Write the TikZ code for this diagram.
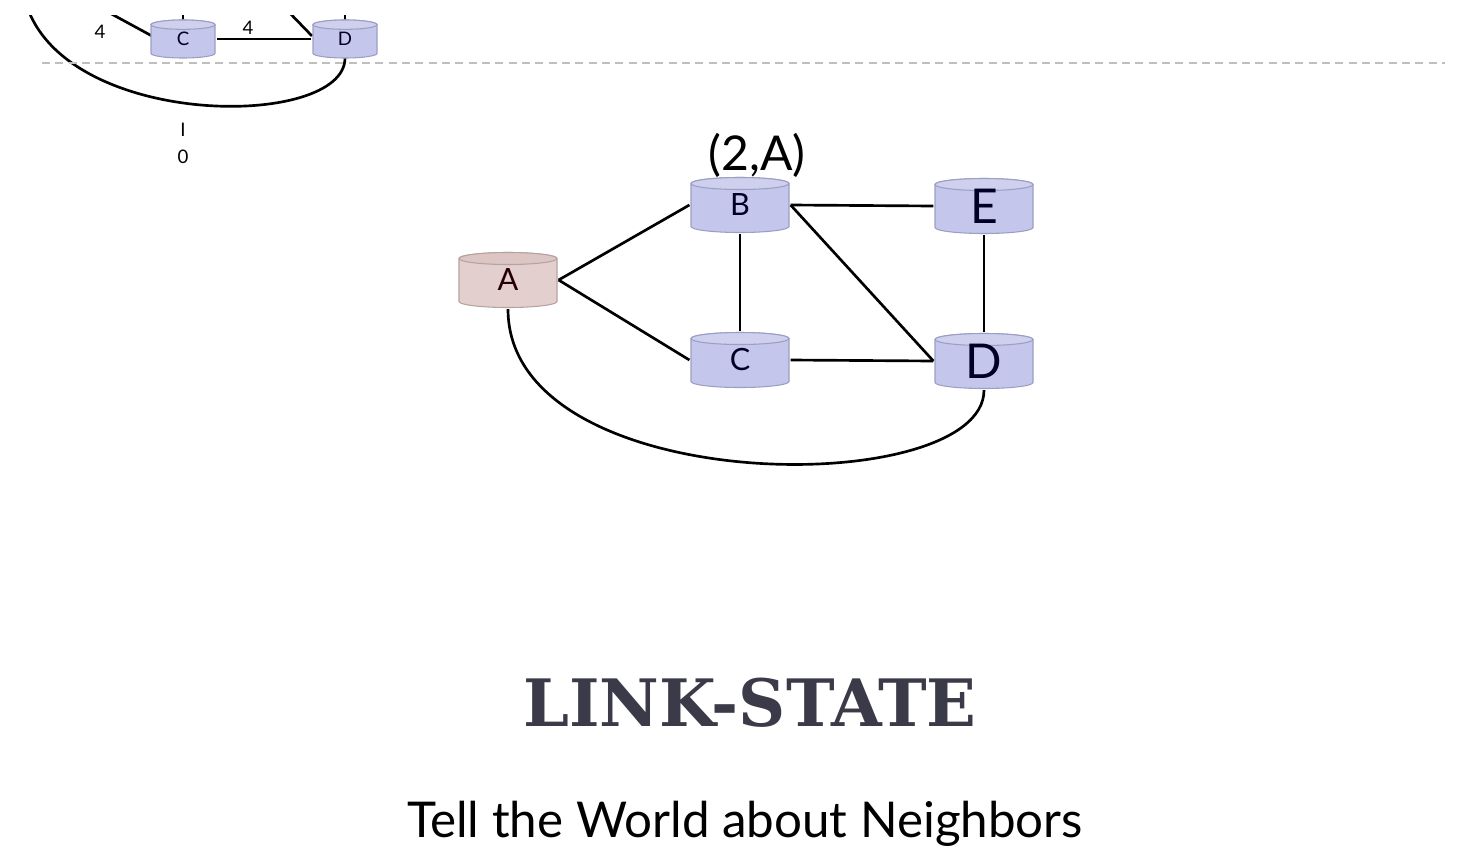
\documentclass[tikz,border=0pt]{standalone}
\usepackage{fontspec}
\setmainfont{Lato}
\newfontfamily\slabfont{DejaVu Serif}
\definecolor{routerfill}{HTML}{C4C7EB}
\definecolor{routertop}{HTML}{CED0EE}
\definecolor{routerline}{HTML}{9C9EC4}
\definecolor{hostfill}{HTML}{E3CFCD}
\definecolor{hosttop}{HTML}{DCC6C4}
\definecolor{hostline}{HTML}{B5A3A2}
\definecolor{titlegray}{HTML}{3A3A48}
\tikzset{
       cyl/.style n args = {5}{ path picture={
                      \path [fill=#1, draw=#3, line width=0.8pt]
                        ([xshift=1pt, yshift=-1pt-#5]path picture bounding box.north west)
                        -- ([xshift=1pt, yshift=1pt+#5]path picture bounding box.south west)
                        arc [start angle=180, end angle=360, x radius=#4, y radius=#5]
                        -- ([xshift=-1pt, yshift=-1pt-#5]path picture bounding box.north east)
                        arc [start angle=0, end angle=180, x radius=#4, y radius=#5] -- cycle;
                      \path [fill=#2, draw=#3, line width=0.8pt]
                        ([yshift=-1pt-#5]path picture bounding box.north)
                        ellipse [x radius=#4, y radius=#5];
                    } },
    router/.style = { rectangle, inner sep=0pt, minimum width=75.5pt, minimum height=43.25pt,
                      cyl={routerfill}{routertop}{routerline}{36.75pt}{4.5pt},
                      text=black!85!blue },
      host/.style = { rectangle, inner sep=0pt, minimum width=75.5pt, minimum height=43.25pt,
                      cyl={hostfill}{hosttop}{hostline}{36.75pt}{4.5pt},
                      text=black!85!red },
     small/.style = { rectangle, inner sep=0pt, minimum width=50pt, minimum height=30.5pt,
                      cyl={routerfill}{routertop}{routerline}{24pt}{3.5pt},
                      text=black!85!blue, font=\fontsize{14}{16}\selectfont },
      link/.style = { line width=2pt, black },
    weight/.style = { font=\fontsize{14}{16}\selectfont }
}

\begin{document}
\begin{tikzpicture}[x=0.75pt, y=-0.75pt]
  \useasboundingbox (0,0) rectangle (1480,864);

  % previous slide, cut off at the top
  \begin{scope}
    \clip (0,15) rectangle (1480,864);
    \coordinate (sCup) at (183,0);
    \coordinate (sDup) at (345,0);
    \coordinate (sBC)  at (95,5);
    \coordinate (sBD)  at (282,5);
    \coordinate (sA)   at (25,0);
    \draw [link] (sA) .. controls (60,130) and (345,130) .. (345,58);
    \draw [link] (sBC) -- (152,36);
    \draw [link] (sBD) -- (312,36);
    \draw [link] (183,20) -- (sCup);
    \draw [link] (345,20) -- (sDup);
    \node [small] (sC) at (183,39) {C};
    \node [small] (sD) at (345,39) {D};
    \draw [link] (sC.east) -- (sD.west);
    \node [weight] (w1) at (100,32) {4};
    \node [weight] (w2) at (248,28) {4};
  \end{scope}
  \node [weight] (n1) at (183,130) {I};
  \node [weight] (n0) at (183,157) {0};

  \coordinate (sepL) at (42,63);
  \coordinate (sepR) at (1445,63);
  \draw [black!25, line width=1pt, dash pattern=on 6pt off 4pt] (sepL) -- (sepR);

  % the network
  \node [host,   font=\fontsize{23}{26}\selectfont] (A) at (508,280) {\raisebox{-2pt}{A}};
  \node [router, font=\fontsize{23}{26}\selectfont] (B) at (740,205) {\raisebox{-2pt}{B}};
  \node [router, font=\fontsize{23}{26}\selectfont] (C) at (740,360) {\raisebox{-2pt}{C}};
  \node [router, font=\fontsize{36}{40}\selectfont] (E) at (984,206) {\raisebox{-2pt}{E}};
  \node [router, font=\fontsize{36}{40}\selectfont] (D) at (984,361) {\raisebox{-2pt}{D}};
  \node [font=\fontsize{36}{40}\selectfont] (msg) at (757,155) {(2,A)};

  \draw [link] (A.east) -- (B.west);
  \draw [link] (A.east) -- (C.west);
  \draw [link] (B.south) -- (C.north);
  \draw [link] (B.east) -- (E.west);
  \draw [link] (B.east) -- (D.west);
  \draw [link] (C.east) -- (D.west);
  \draw [link] (E.south) -- (D.north);
  \draw [link] (A.south) .. controls (508,500) and (984,500) .. (D.south);

  \node [font=\slabfont\bfseries\fontsize{49}{54}\selectfont, text=titlegray] (title) at (750,703) {LINK-STATE};
  \node [font=\fontsize{37}{42}\selectfont] (sub) at (745,824) {Tell the World about Neighbors};
\end{tikzpicture}
\end{document}
